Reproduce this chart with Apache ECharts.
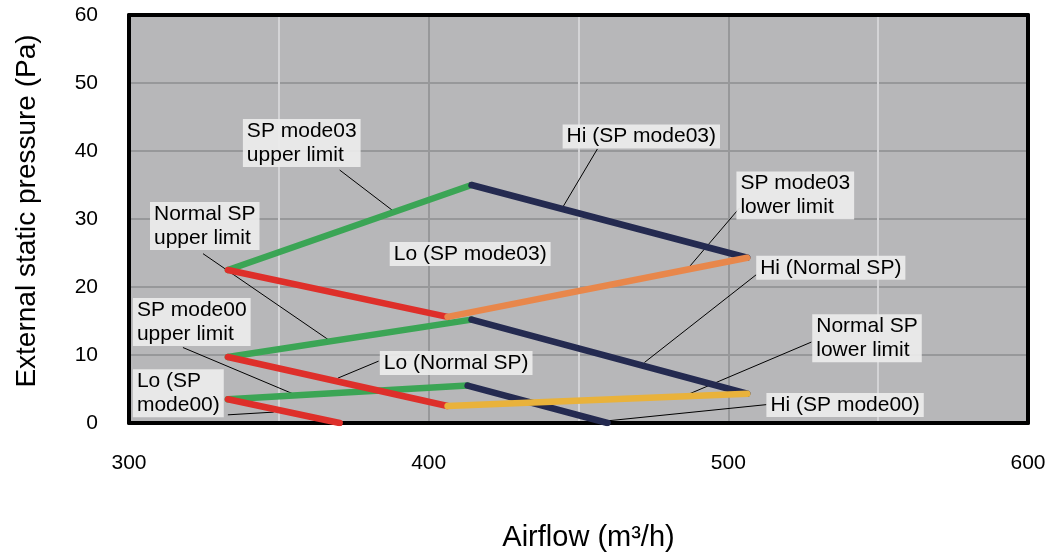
<!DOCTYPE html>
<html>
<head>
<meta charset="utf-8">
<script src="https://cdn.jsdelivr.net/npm/echarts@6/dist/echarts.min.js"></script>
<style>
	html, body { margin: 0; padding: 0; background: #fff; }
	#main { width: 1049px; height: 559px; }
</style>
</head>
<body>
<div id="main"></div>
<script>
	'use strict';
	var FONT = "Arial, 'Liberation Sans', sans-serif";

	// axis ticks
	var xTicks = [300, 400, 500, 600];
	var yTicks = [0, 10, 20, 30, 40, 50, 60];

	// each segment: [x1, y1, x2, y2]
	var greenSegs = [
		[333, 22.5, 414.3, 35],
		[333, 9.7, 414.3, 15.2],
		[333, 3.5, 413, 5.5]
	];
	var navySegs = [
		[414.3, 35, 506.3, 24.3],
		[414.3, 15.2, 506.3, 4.3],
		[413, 5.5, 459.7, 0]
	];
	var redSegs = [
		[333, 22.5, 406.3, 15.6],
		[333, 9.7, 406.3, 2.5],
		[333, 3.5, 370.3, 0]
	];
	var orangeSeg = [406.3, 15.6, 506.3, 24.3];
	var yellowSeg = [406.3, 2.5, 506.3, 4.3];

	// callout texts, their top-left anchor, and leader lines
	var calloutText = [
		'SP mode03\nupper limit',
		'Normal SP\nupper limit',
		'SP mode00\nupper limit',
		'Lo (SP\nmode00)',
		'Lo (Normal SP)',
		'Lo (SP mode03)',
		'Hi (SP mode03)',
		'SP mode03\nlower limit',
		'Hi (Normal SP)',
		'Normal SP\nlower limit',
		'Hi (SP mode00)'
	];
	var calloutPos = [
		[338.0, 44.7], [307.0, 32.5], [301.3, 18.4], [301.3, 7.9],
		[383.7, 10.6], [387.0, 26.6], [444.7, 43.9], [502.7, 37.0],
		[509.3, 24.6], [528.0, 16.0], [512.7, 4.4]
	];
	var leaders = [
		[370.3, 37.2, 389.3, 30.8],
		[324.7, 24.9, 367.7, 11.9],
		[318.0, 11.1, 356.3, 4.0],
		[333.0, 1.2, 348.3, 1.6],
		[383.3, 9.1, 369.7, 6.6],
		[456.3, 40.3, 444.3, 31.4],
		[503.7, 31.6, 485.3, 22.1],
		[509.3, 21.8, 472.0, 8.9],
		[527.7, 11.9, 486.0, 4.1],
		[512.7, 2.7, 459.3, 0.3]
	];

	function segSeries(segs, color) {
		return segs.map(function (s) {
			return {
				type: 'line',
				data: [[s[0], s[1]], [s[2], s[3]]],
				symbol: 'none',
				silent: true,
				lineStyle: { color: color, width: 6.5, cap: 'round' }
			};
		});
	}

	var series = [].concat(
		segSeries(greenSegs, '#3ba555'),
		segSeries(redSegs, '#de2f2a'),
		segSeries(navySegs, '#242a50'),
		segSeries([orangeSeg], '#e8874b'),
		segSeries([yellowSeg], '#e9b23b')
	);

	series.push({
		type: 'lines',
		coordinateSystem: 'cartesian2d',
		silent: true,
		lineStyle: { color: '#000', width: 1, opacity: 1 },
		data: leaders.map(function (l) {
			return { coords: [[l[0], l[1]], [l[2], l[3]]] };
		}),
		z: 3
	});

	series.push({
		type: 'scatter',
		symbolSize: 0,
		silent: true,
		z: 4,
		data: calloutPos.map(function (p, i) {
			return { value: p, name: calloutText[i] };
		}),
		label: {
			show: true,
			position: [0, 0],
			align: 'left',
			verticalAlign: 'top',
			formatter: '{b}',
			fontFamily: FONT,
			fontSize: 21,
			lineHeight: 24,
			color: '#000',
			opacity: 1,
			backgroundColor: 'rgba(236,236,236,0.92)',
			padding: [0, 4, 0, 4]
		}
	});

	var frame = { show: true, onZero: false, lineStyle: { color: '#000', width: 4 } };

	var chart = echarts.init(document.getElementById('main'));
	chart.setOption({
		animation: false,
		backgroundColor: '#fff',
		grid: {
			left: 129, right: 21, top: 15, bottom: 136,
			show: true,
			backgroundColor: '#b7b7b9',
			borderWidth: 0
		},
		xAxis: [{
			type: 'value',
			min: 300, max: 600, interval: 50,
			name: 'Airflow (m³/h)',
			nameLocation: 'middle',
			nameGap: 100,
			nameTextStyle: { fontFamily: FONT, fontSize: 29, color: '#000', padding: [0, 0, 0, 20] },
			axisLine: frame,
			axisTick: { show: false },
			axisLabel: {
				margin: 30,
				fontFamily: FONT, fontSize: 21, color: '#000',
				formatter: function (v) { return xTicks.indexOf(v) >= 0 ? String(v) : ''; }
			},
			splitLine: { show: true, lineStyle: { color: ['#97989a', '#d4d4d6'], width: 2 } }
		}, {
			type: 'value', position: 'top',
			min: 300, max: 600,
			axisLine: frame,
			axisTick: { show: false },
			axisLabel: { show: false },
			splitLine: { show: false }
		}],
		yAxis: [{
			type: 'value',
			min: 0, max: 60, interval: 10,
			name: 'External static pressure (Pa)',
			nameLocation: 'middle',
			nameGap: 88,
			nameTextStyle: { fontFamily: FONT, fontSize: 28, color: '#000', padding: [0, 0, 0, 16] },
			axisLine: frame,
			axisTick: { show: false },
			axisLabel: {
				margin: 31,
				fontFamily: FONT, fontSize: 21, color: '#000',
				formatter: function (v) { return yTicks.indexOf(v) >= 0 ? String(v) : ''; }
			},
			splitLine: { show: true, lineStyle: { color: '#97989a', width: 2 } }
		}, {
			type: 'value', position: 'right',
			min: 0, max: 60,
			axisLine: frame,
			axisTick: { show: false },
			axisLabel: { show: false },
			splitLine: { show: false }
		}],
		series: series
	});
</script>
</body>
</html>
